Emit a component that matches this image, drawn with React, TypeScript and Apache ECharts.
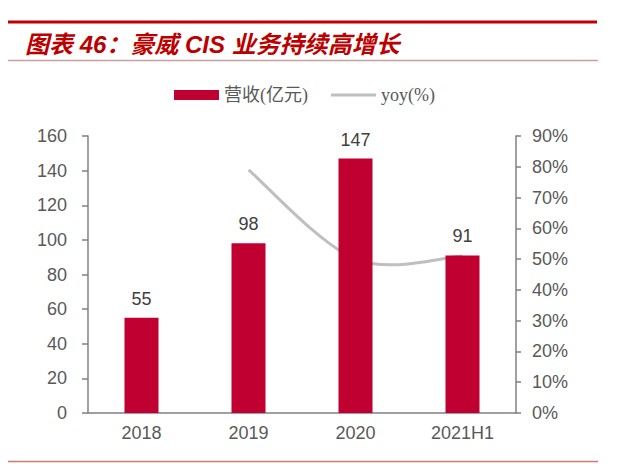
import * as echarts from 'echarts';
import { useEffect, useRef } from 'react';

const categories = ['2018', '2019', '2020', '2021H1'];
const revenue = [55, 98, 147, 91];
const yoy: (number | null)[] = [null, 79, 50, 51];
const leftTicks = { min: 0, max: 160, interval: 20 };
const rightTicks = { min: 0, max: 90, interval: 10 };

const SANS = '"Liberation Sans", Arial, "Noto Sans CJK SC", sans-serif';
const SERIF = '"Liberation Serif", "Noto Sans CJK SC", serif';
const AXIS_GRAY = '#808080';
const TEXT_GRAY = '#595959';
const LINE_GRAY = '#BFBFBF';

// yoy points as [category index, value], gaps dropped
const yoyPoints = categories
  .map((_, i) => [i, yoy[i]])
  .filter((p) => p[1] !== null) as number[][];

const App = () => {
  const chartRef = useRef<HTMLDivElement>(null);

  useEffect(() => {
    if (!chartRef.current) return;

    const chart = echarts.init(chartRef.current, undefined, { renderer: 'svg' });

    // Catmull-Rom style smoothing (like Excel), one bezier per segment
    // eslint-disable-next-line @typescript-eslint/no-explicit-any
    const renderYoy = (params: any, api: any) => {
      const i = params.dataIndex;
      if (i >= yoyPoints.length - 1) return { type: 'group', children: [] };
      const pts = yoyPoints.map((p) => api.coord(p));
      const p0 = pts[Math.max(i - 1, 0)];
      const p1 = pts[i];
      const p2 = pts[i + 1];
      const p3 = pts[Math.min(i + 2, pts.length - 1)];
      return {
        shape: {
          cpx1: p1[0] + (p2[0] - p0[0]) / 6,
          cpx2: p2[0] - (p3[0] - p1[0]) / 6,
          cpy1: p1[1] + (p2[1] - p0[1]) / 6,
          cpy2: p2[1] - (p3[1] - p1[1]) / 6,
          x1: p1[0],
          x2: p2[0],
          y1: p1[1],
          y2: p2[1],
        },
        style: { fill: 'none', lineWidth: 3, stroke: LINE_GRAY },
        type: 'bezierCurve',
      };
    };

    const option = {
      animation: false,
      title: {
        left: 20,
        text: '图表 46：豪威 CIS 业务持续高增长',
        textStyle: {
          color: '#BC0000',
          fontFamily: SANS,
          fontSize: 24,
          fontStyle: 'italic',
          fontWeight: 'bold',
        },
        top: 27,
      },
      graphic: [
        {
          shape: { height: 3, width: 589, x: 8, y: 20.5 },
          style: { fill: '#C00000' },
          type: 'rect',
        },
        {
          shape: { x1: 8, x2: 598, y1: 60.5, y2: 60.5 },
          style: { lineWidth: 1.5, stroke: '#C8A0A0' },
          type: 'line',
        },
        {
          shape: { x1: 8, x2: 598, y1: 461.5, y2: 461.5 },
          style: { lineWidth: 1.5, stroke: '#D07878' },
          type: 'line',
        },
      ],
      legend: {
        data: [
          { name: '营收(亿元)', icon: 'rect' },
          { name: 'yoy(%)', icon: 'path://M0,0 L45,0 L45,3 L0,3 Z' },
        ],
        itemGap: 23,
        itemHeight: 10,
        itemWidth: 45,
        left: 169,
        textStyle: {
          color: TEXT_GRAY,
          fontFamily: SERIF,
          fontSize: 18,
        },
        top: 81,
      },
      grid: {
        bottom: 51,
        left: 88,
        right: 124,
        top: 136,
      },
      xAxis: {
        axisLabel: {
          color: TEXT_GRAY,
          fontFamily: SANS,
          fontSize: 18,
          margin: 11,
        },
        axisLine: { lineStyle: { color: AXIS_GRAY, width: 1.5 } },
        axisTick: { length: 5, lineStyle: { color: AXIS_GRAY, width: 1.5 } },
        data: categories,
        type: 'category',
      },
      yAxis: [
        {
          axisLabel: {
            color: TEXT_GRAY,
            fontFamily: SANS,
            fontSize: 18,
            margin: 21,
          },
          axisLine: { lineStyle: { color: AXIS_GRAY, width: 1.5 }, show: true },
          axisTick: { length: 6, lineStyle: { color: AXIS_GRAY, width: 1.5 }, show: true },
          interval: leftTicks.interval,
          max: leftTicks.max,
          min: leftTicks.min,
          splitLine: { show: false },
          type: 'value',
        },
        {
          axisLabel: {
            color: TEXT_GRAY,
            fontFamily: SANS,
            fontSize: 18,
            formatter: '{value}%',
            margin: 16,
          },
          axisLine: { lineStyle: { color: AXIS_GRAY, width: 1.5 }, show: true },
          axisTick: { length: 5, lineStyle: { color: AXIS_GRAY, width: 1.5 }, show: true },
          interval: rightTicks.interval,
          max: rightTicks.max,
          min: rightTicks.min,
          position: 'right',
          splitLine: { show: false },
          type: 'value',
        },
      ],
      series: [
        {
          barWidth: 34,
          data: revenue,
          itemStyle: { color: '#C00030' },
          label: {
            color: '#404040',
            distance: 10,
            fontFamily: SANS,
            fontSize: 18,
            position: 'top',
            show: true,
          },
          name: '营收(亿元)',
          type: 'bar',
        },
        {
          data: yoyPoints,
          encode: { x: 0, y: 1 },
          itemStyle: { color: LINE_GRAY },
          name: 'yoy(%)',
          renderItem: renderYoy,
          type: 'custom',
          yAxisIndex: 1,
        },
      ],
    };

    chart.setOption(option);

    // eslint-disable-next-line consistent-return
    return () => {
      chart.dispose();
    };
  }, []);

  return (
    <div
      ref={chartRef}
      style={{ height: 464, left: 0, position: 'absolute', top: 0, width: 640 }}
    />
  );
};

export default App;
